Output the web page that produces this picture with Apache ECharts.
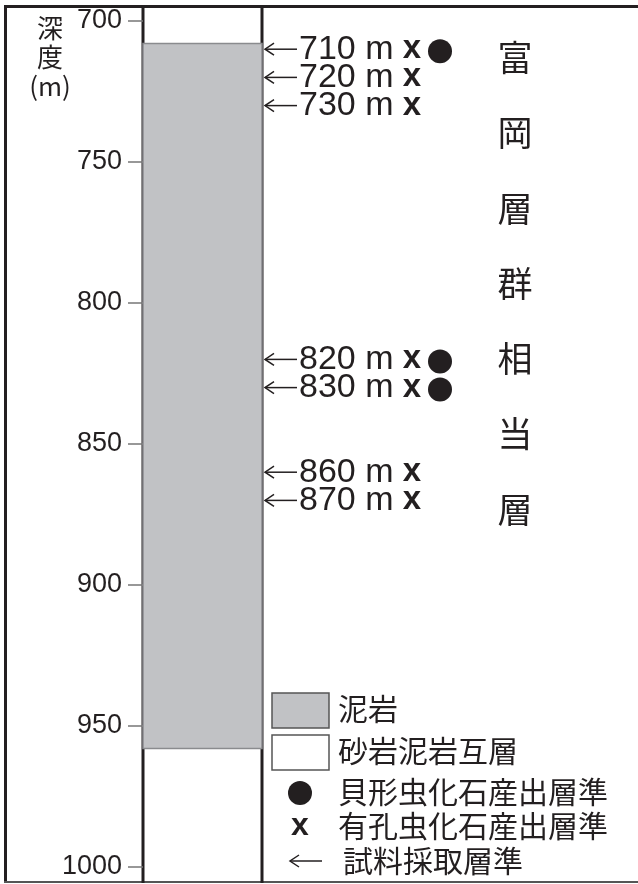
<!DOCTYPE html>
<html>
<head>
<meta charset="utf-8">
<script src="https://cdn.jsdelivr.net/npm/echarts@6/dist/echarts.min.js"></script>
<style>
  html, body { margin: 0; padding: 0; background: #fff; }
  #chart { width: 638px; height: 884px; }
</style>
</head>
<body>
<div id="chart"></div>
<script>
// 深度軸
const depthMin = 700;
const depthMax = 1000;
const depthStep = 50;

// 泥岩の区間 [上端, 下端] (m)
const mudstone = [[708, 958]];

// 試料採取層準と産出化石
const sampleDepths = [710, 720, 730, 820, 830, 860, 870];
const hasForam     = [true, true, true, true, true, true, true];   // x
const hasOstracod  = [true, false, false, true, true, false, false]; // ●

const formationName = '富岡層群相当層';
const legendLabels = ['泥岩', '砂岩泥岩互層', '貝形虫化石産出層準', '有孔虫化石産出層準', '試料採取層準'];

const ink = '#231f20';
const mudColor = '#c1c2c5';
const numFont = '"Liberation Sans", Arial, sans-serif';
const jpFont = '"Noto Sans CJK JP", sans-serif';

const chart = echarts.init(document.getElementById('chart'));

const sampleData = sampleDepths.map((d, i) => [d, hasForam[i] ? 1 : 0, hasOstracod[i] ? 1 : 0]);

function arrowShapes(x, y, len, color) {
  return [
    { type: 'line', shape: { x1: x, y1: y, x2: x + len, y2: y }, style: { stroke: color, lineWidth: 1.5 } },
    { type: 'polyline', shape: { points: [[x + 9, y - 6], [x, y], [x + 9, y + 6]] }, style: { stroke: color, lineWidth: 1.5, fill: null } }
  ];
}

chart.setOption({
  animation: false,
  grid: { left: 143, right: 376, top: 21, bottom: 17 },
  xAxis: { type: 'value', min: 0, max: 1, show: false },
  yAxis: {
    type: 'value',
    inverse: true,
    min: depthMin,
    max: depthMax,
    interval: depthStep,
    axisLine: { show: false },
    axisTick: { show: true, length: 15, lineStyle: { color: '#777', width: 1.5 } },
    axisLabel: { margin: 21, fontSize: 27, color: ink, fontFamily: numFont, formatter: v => String(v) },
    splitLine: { show: false }
  },
  series: [
    {
      // 泥岩の柱
      type: 'custom',
      data: mudstone,
      renderItem: function (params, api) {
        const p0 = api.coord([0, api.value(0)]);
        const p1 = api.coord([1, api.value(1)]);
        return {
          type: 'rect',
          shape: { x: p0[0], y: p0[1], width: p1[0] - p0[0], height: p1[1] - p0[1] },
          style: { fill: mudColor, stroke: '#8a8b8e', lineWidth: 1.5 }
        };
      }
    },
    {
      // 試料採取層準
      type: 'custom',
      data: sampleData,
      clip: false,
      renderItem: function (params, api) {
        const depth = api.value(0);
        const p = api.coord([1, depth]);
        const x0 = p[0] + 3, y = p[1];
        const children = arrowShapes(x0, y, 32, ink);
        children.push({
          type: 'text',
          style: { x: x0 + 34, y: y, text: depth + ' m', font: '34px ' + numFont, fill: ink, verticalAlign: 'middle', align: 'left' }
        });
        if (api.value(1)) {
          children.push({
            type: 'text',
            style: { x: x0 + 147, y: y, text: 'x', font: 'bold 33px ' + numFont, fill: ink, verticalAlign: 'middle', align: 'center' }
          });
        }
        if (api.value(2)) {
          children.push({
            type: 'circle',
            shape: { cx: x0 + 175, cy: y + 2, r: 12 },
            style: { fill: ink }
          });
        }
        return { type: 'group', children: children };
      }
    }
  ],
  graphic: [
    // 外枠と柱の縦線
    { type: 'line', shape: { x1: 5.5, y1: 5, x2: 5.5, y2: 883 }, style: { stroke: ink, lineWidth: 3 } },
    { type: 'line', shape: { x1: 4, y1: 6.5, x2: 638, y2: 6.5 }, style: { stroke: ink, lineWidth: 3 } },
    { type: 'line', shape: { x1: 4, y1: 882, x2: 638, y2: 882 }, style: { stroke: '#555', lineWidth: 2 } },
    { type: 'line', shape: { x1: 143, y1: 5, x2: 143, y2: 883 }, style: { stroke: ink, lineWidth: 3 } },
    { type: 'line', shape: { x1: 262, y1: 5, x2: 262, y2: 883 }, style: { stroke: ink, lineWidth: 3 } },
    // 軸名
    { type: 'text', style: { x: 50, y: 14, text: '深\n度\n(m)', font: '26px ' + jpFont, lineHeight: 29, fill: ink, align: 'center' } },
    // 地層名（縦書き）
    { type: 'text', style: { x: 515, y: 20, text: formationName.split('').join('\n'), font: '35px ' + jpFont, lineHeight: 75.3, fill: ink, align: 'center' } },
    // 凡例
    { type: 'rect', shape: { x: 272, y: 693, width: 57, height: 35 }, style: { fill: mudColor, stroke: '#555', lineWidth: 1.5 } },
    { type: 'rect', shape: { x: 272, y: 735, width: 57, height: 35 }, style: { fill: '#fff', stroke: '#555', lineWidth: 1.5 } },
    { type: 'circle', shape: { cx: 300, cy: 793, r: 12 }, style: { fill: ink } },
    { type: 'text', style: { x: 300, y: 826, text: 'x', font: 'bold 32px ' + numFont, fill: ink, align: 'center', verticalAlign: 'middle' } },
    { type: 'group', children: arrowShapes(290, 861, 32, ink) },
    { type: 'text', style: { x: 338, y: 709, text: legendLabels[0], font: '30px ' + jpFont, fill: ink, verticalAlign: 'middle' } },
    { type: 'text', style: { x: 338, y: 751, text: legendLabels[1], font: '30px ' + jpFont, fill: ink, verticalAlign: 'middle' } },
    { type: 'text', style: { x: 338, y: 792, text: legendLabels[2], font: '30px ' + jpFont, fill: ink, verticalAlign: 'middle' } },
    { type: 'text', style: { x: 338, y: 826, text: legendLabels[3], font: '30px ' + jpFont, fill: ink, verticalAlign: 'middle' } },
    { type: 'text', style: { x: 343, y: 861, text: legendLabels[4], font: '30px ' + jpFont, fill: ink, verticalAlign: 'middle' } }
  ]
});
</script>
</body>
</html>
